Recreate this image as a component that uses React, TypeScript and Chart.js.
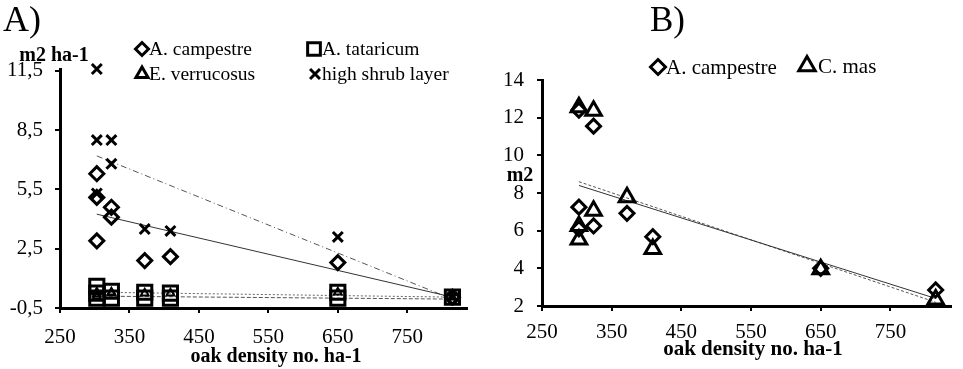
import React, { useEffect, useRef } from 'react';
import { Chart, registerables } from 'chart.js';
Chart.register(...registerables);

// ---------- Panel A data (m2 ha-1 vs oak density) ----------
const plotDensity = [303, 303, 303, 324, 324, 372, 409, 650, 815];
const campestreA = [6.3, 5.1, 2.9, 4.6, 4.1, 1.9, 2.1, 1.8, 0.05];
const shrubA = [11.6, 8.0, 5.3, 8.0, 6.8, 3.5, 3.4, 3.1, 0.05];
const tataricumDensityA = [303, 303, 303, 324, 324, 372, 372, 409, 409, 650, 650, 815];
const tataricumA = [0.6, 0.25, 0.0, 0.35, 0.0, 0.3, 0.0, 0.25, 0.0, 0.3, 0.0, 0.05];
const verrucosusA = [0.3, 0.2, 0.1, 0.3, 0.25, 0.25, 0.25, 0.3, 0.05];
const trendDensity = [303, 815];
const trendCampestreA = [4.25, 0.05];
const trendShrubA = [7.2, -0.05];
const trendTataricumA = [0.3, 0.05];
const trendVerrucosusA = [0.1, -0.05];

// ---------- Panel B data (m2) ----------
const campestreB = [12.4, 7.25, 6.1, 11.55, 6.25, 6.92, 5.68, 4.0, 2.85];
const masB = [12.55, 6.25, 5.53, 12.37, 7.06, 7.77, 5.03, 3.95, 2.34];
const trendCampestreB = [8.4, 2.4];
const trendMasB = [8.6, 2.2];

// ---------- Ticks ----------
const xTicks = [250, 350, 450, 550, 650, 750];
const yTicksA = [-0.5, 2.5, 5.5, 8.5, 11.5];
const yTicksB = [2, 4, 6, 8, 10, 12, 14];

const SERIF = "'Liberation Serif', 'Times New Roman', serif";

const pts = (xs: number[], ys: number[]) => ys.map((y, i) => ({ x: xs[i], y }));

function drawMarker(ctx: CanvasRenderingContext2D, style: string, x: number, y: number, r: number, lw: number) {
  ctx.save();
  ctx.strokeStyle = '#000';
  ctx.lineWidth = lw;
  ctx.beginPath();
  if (style === 'rectRot') {
    ctx.moveTo(x, y - r); ctx.lineTo(x + r, y); ctx.lineTo(x, y + r); ctx.lineTo(x - r, y); ctx.closePath();
  } else if (style === 'rect') {
    const s = r * Math.SQRT1_2;
    ctx.rect(x - s, y - s, 2 * s, 2 * s);
  } else if (style === 'triangle') {
    ctx.moveTo(x, y - r); ctx.lineTo(x + r * 0.866, y + r / 2); ctx.lineTo(x - r * 0.866, y + r / 2); ctx.closePath();
  } else if (style === 'crossRot') {
    const s = r * Math.SQRT1_2;
    ctx.moveTo(x - s, y - s); ctx.lineTo(x + s, y + s);
    ctx.moveTo(x + s, y - s); ctx.lineTo(x - s, y + s);
  }
  ctx.stroke();
  ctx.restore();
}

type TextItem = { text: string; x: number; y: number; font: string; align?: CanvasTextAlign };
type LegendItem = { index: number; x: number; y: number; r: number; lw: number; gap: number; font: string };

function makeTextPlugin(texts: TextItem[], legend: LegendItem[]) {
  return {
    id: 'panelText',
    afterDraw(chart: any) {
      const ctx: CanvasRenderingContext2D = chart.ctx;
      ctx.save();
      ctx.fillStyle = '#000';
      ctx.textBaseline = 'middle';
      for (const t of texts) {
        ctx.font = t.font;
        ctx.textAlign = t.align || 'center';
        ctx.fillText(t.text, t.x, t.y);
      }
      for (const l of legend) {
        const ds = chart.data.datasets[l.index];
        drawMarker(ctx, ds.pointStyle, l.x, l.y, l.r, l.lw);
        ctx.font = l.font;
        ctx.textAlign = 'left';
        ctx.fillStyle = '#000';
        ctx.fillText(ds.label, l.x + l.gap, l.y + 1);
      }
      ctx.restore();
    },
  };
}

function axisCommon(ticks: number[], fmt: (v: number) => string, min: number, max: number, size: number, pad: number) {
  return {
    type: 'linear',
    min,
    max,
    afterBuildTicks: (scale: any) => {
      scale.ticks = ticks.map((v) => ({ value: v }));
    },
    ticks: {
      autoSkip: false,
      maxRotation: 0,
      padding: pad,
      color: '#000',
      font: { family: SERIF, size },
      callback: (v: any) => fmt(Number(v)),
    },
    grid: {
      display: true,
      drawOnChartArea: false,
      drawTicks: true,
      tickLength: 5,
      color: '#000',
      lineWidth: 2,
    },
    border: { display: true, color: '#000', width: 3 },
  };
}

function markerDs(label: string, data: any[], style: string, r: number, lw: number) {
  return {
    label,
    data,
    pointStyle: style,
    pointRadius: r,
    pointHoverRadius: r,
    pointBorderWidth: lw,
    borderColor: '#000',
    pointBorderColor: '#000',
    backgroundColor: 'rgba(0,0,0,0)',
    pointBackgroundColor: 'rgba(0,0,0,0)',
    showLine: false,
    clip: false,
  };
}

function trendDs(data: any[], dash: number[], color: string) {
  return {
    label: '',
    data,
    showLine: true,
    pointRadius: 0,
    borderWidth: 1,
    borderColor: color,
    borderDash: dash,
    backgroundColor: 'rgba(0,0,0,0)',
    fill: false,
  };
}

function PanelA() {
  const ref = useRef<HTMLCanvasElement>(null);
  useEffect(() => {
    const fmt = (v: number) => v.toString().replace('.', ',');
    const xAxis: any = axisCommon(xTicks, (v) => String(v), 250, 836, 21, 12);
    xAxis.afterFit = (s: any) => { s.height = 61; };
    const yAxis: any = axisCommon(yTicksA, fmt, -0.5, 11.6, 21, 12);
    yAxis.afterFit = (s: any) => { s.width = 60; };
    const plugin = makeTextPlugin(
      [
        { text: 'A)', x: 3, y: 22, font: `36px ${SERIF}`, align: 'left' },
        { text: 'm2 ha-1', x: 54, y: 56, font: `bold 20px ${SERIF}` },
        { text: 'oak density no. ha-1', x: 276, y: 357, font: `bold 20px ${SERIF}` },
      ],
      [
        { index: 0, x: 142, y: 49, r: 6.5, lw: 3, gap: 7, font: `19.5px ${SERIF}` },
        { index: 1, x: 314, y: 49, r: 9, lw: 3, gap: 8, font: `19.5px ${SERIF}` },
        { index: 2, x: 142, y: 74, r: 7, lw: 3, gap: 7, font: `19.5px ${SERIF}` },
        { index: 3, x: 315, y: 74, r: 7, lw: 3, gap: 7, font: `19.5px ${SERIF}` },
      ]
    );
    const chart = new Chart(ref.current!, {
      type: 'scatter',
      data: {
        datasets: [
          markerDs('A. campestre', pts(plotDensity, campestreA), 'rectRot', 7, 3),
          markerDs('A. tataricum', pts(tataricumDensityA, tataricumA), 'rect', 10, 3),
          markerDs('E. verrucosus', pts(plotDensity, verrucosusA), 'triangle', 4.5, 2),
          markerDs('high shrub layer', pts(plotDensity, shrubA), 'crossRot', 7, 3),
          trendDs(pts(trendDensity, trendCampestreA), [], '#333'),
          trendDs(pts(trendDensity, trendShrubA), [6, 3, 1, 3], '#555'),
          trendDs(pts(trendDensity, trendTataricumA), [2, 2], '#666'),
          trendDs(pts(trendDensity, trendVerrucosusA), [4, 2], '#555'),
        ] as any,
      },
      options: {
        animation: false,
        responsive: false,
        devicePixelRatio: 1,
        layout: { padding: { left: 0, right: 10, top: 69, bottom: 0 } },
        plugins: { legend: { display: false }, tooltip: { enabled: false }, title: { display: false } },
        scales: { x: xAxis, y: yAxis },
      } as any,
      plugins: [plugin as any],
    });
    return () => chart.destroy();
  }, []);
  return <canvas ref={ref} width={480} height={369} style={{ position: 'absolute', left: 0, top: 0 }} />;
}

function PanelB() {
  const ref = useRef<HTMLCanvasElement>(null);
  useEffect(() => {
    const xAxis: any = axisCommon(xTicks, (v) => String(v), 250, 837, 21, 9);
    xAxis.afterFit = (s: any) => { s.height = 63; };
    const yAxis: any = axisCommon(yTicksB, (v) => String(v), 2, 14, 21, 13);
    yAxis.afterFit = (s: any) => { s.width = 62; };
    const plugin = makeTextPlugin(
      [
        { text: 'B)', x: 170, y: 22, font: `35px ${SERIF}`, align: 'left' },
        { text: 'm2', x: 40, y: 176, font: `bold 20px ${SERIF}` },
        { text: 'oak density no. ha-1', x: 273, y: 350, font: `bold 21px ${SERIF}` },
      ],
      [
        { index: 0, x: 178, y: 67, r: 7.5, lw: 3, gap: 8, font: `21px ${SERIF}` },
        { index: 1, x: 327, y: 66, r: 9.5, lw: 3, gap: 11, font: `21px ${SERIF}` },
      ]
    );
    const chart = new Chart(ref.current!, {
      type: 'scatter',
      data: {
        datasets: [
          markerDs('A. campestre', pts(plotDensity, campestreB), 'rectRot', 7, 3),
          markerDs('C. mas', pts(plotDensity, masB), 'triangle', 9, 3),
          trendDs(pts(trendDensity, trendCampestreB), [], '#333'),
          trendDs(pts(trendDensity, trendMasB), [3, 2], '#555'),
        ] as any,
      },
      options: {
        animation: false,
        responsive: false,
        devicePixelRatio: 1,
        layout: { padding: { left: 0, right: 1, top: 80, bottom: 0 } },
        plugins: { legend: { display: false }, tooltip: { enabled: false }, title: { display: false } },
        scales: { x: xAxis, y: yAxis },
      } as any,
      plugins: [plugin as any],
    });
    return () => chart.destroy();
  }, []);
  return <canvas ref={ref} width={483} height={369} style={{ position: 'absolute', left: 480, top: 0 }} />;
}

export default function App() {
  return (
    <div style={{ position: 'absolute', left: 0, top: 0, width: 963, height: 369, background: '#fff', overflow: 'hidden' }}>
      <PanelA />
      <PanelB />
    </div>
  );
}
